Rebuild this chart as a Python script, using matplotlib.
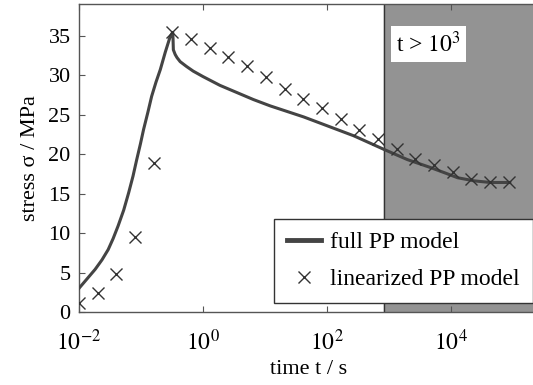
import numpy as np
import matplotlib
matplotlib.use("Agg")
import matplotlib.pyplot as plt

plt.rcParams['font.family'] = ['Liberation Serif', 'DejaVu Serif']
plt.rcParams['mathtext.fontset'] = 'stix'

# linearized PP model: marker points at t = 0.01 * 2^k
lin_k = np.arange(24)
lin_stress = [1.2, 2.4, 4.8, 9.5, 18.9, 35.5, 34.6, 33.4, 32.3, 31.1, 29.8, 28.3,
              27.0, 25.8, 24.5, 23.0, 21.9, 20.7, 19.4, 18.6, 17.7, 16.9, 16.5, 16.4]
lin_time = 0.01 * 2.0 ** lin_k

# full PP model (log10 of time)
full_logt = [-2.0, -1.87, -1.74, -1.63, -1.53, -1.45, -1.37, -1.28, -1.20, -1.13,
             -1.07, -1.01, -0.96, -0.89, -0.83, -0.76, -0.69, -0.61, -0.53, -0.50,
             -0.49, -0.485, -0.48, -0.45, -0.42, -0.37, -0.27, -0.16, 0.0, 0.27,
             0.54, 0.81, 1.08, 1.35, 1.62, 1.89, 2.16, 2.43, 2.91, 3.29, 3.66,
             3.9, 4.1, 4.37, 4.63, 4.94]
full_stress = [3.0, 4.2, 5.4, 6.6, 7.9, 9.3, 10.9, 12.9, 15.1, 17.2,
               19.3, 21.3, 23.1, 25.3, 27.3, 29.1, 30.7, 32.9, 34.9, 35.3,
               35.4, 34.6, 33.2, 32.6, 32.2, 31.7, 31.1, 30.5, 29.8, 28.7,
               27.8, 26.9, 26.1, 25.4, 24.7, 23.9, 23.1, 22.3, 20.6, 19.3, 18.3,
               17.6, 17.0, 16.6, 16.4, 16.4]
full_time = 10.0 ** np.array(full_logt)

shade_start = 10 ** 2.92

fig = plt.figure(figsize=(5.33, 3.85), dpi=100)
ax = fig.add_axes([79 / 533, 1 - 312 / 385, (533 - 79) / 533 + 0.01, (312 - 4) / 385])

ax.axvspan(shade_start, 1e6, color='#939393', zorder=0)
ax.axvline(shade_start, color='#333333', lw=1.0, zorder=1)

ax.plot(full_time, full_stress, color='#444444', lw=2.2, label='full PP model', zorder=3)
ax.plot(lin_time, lin_stress, 'x', color='#333333', ms=9, mew=1.0,
        label='linearized PP model', zorder=4)

ax.set_xscale('log')
ax.set_xlim(1e-2, 10 ** 5.4)
ax.set_ylim(0, 39)
ax.set_xticks([1e-2, 1e0, 1e2, 1e4])
ax.set_xticklabels(['$10^{-2}$', '$10^{0}$', '$10^{2}$', '$10^{4}$'])
ax.set_yticks(range(0, 40, 5))
ax.minorticks_off()
ax.tick_params(direction='in', labelsize=16, length=4, color='#555555',
               top=True, right=False)
ax.tick_params(axis='x', pad=13, labelsize=17)
ax.tick_params(axis='y', pad=6)
for s in ['left', 'bottom', 'top']:
    ax.spines[s].set_color('#555555')
    ax.spines[s].set_linewidth(1.0)
ax.spines['right'].set_visible(False)

ax.set_xlabel('time t / s', fontsize=16, labelpad=3)
ax.set_ylabel('stress σ / MPa', fontsize=16, labelpad=6)

ax.text(0.69, 0.845, 't > $10^{3}$', transform=ax.transAxes, fontsize=17,
        bbox=dict(facecolor='white', edgecolor='none', pad=3.5), zorder=5)

leg = ax.legend(loc='lower right', bbox_to_anchor=(1.0, 1 - 303 / 385),
                bbox_transform=fig.transFigure, fontsize=17, frameon=True,
                fancybox=False, edgecolor='#333333', framealpha=1.0,
                borderaxespad=0.0, handlelength=1.45, handletextpad=0.4,
                borderpad=0.55, labelspacing=0.65)
leg.get_frame().set_linewidth(1.0)
leg.legend_handles[0].set_linewidth(3.5)

fig.savefig('out.png', dpi=100)
